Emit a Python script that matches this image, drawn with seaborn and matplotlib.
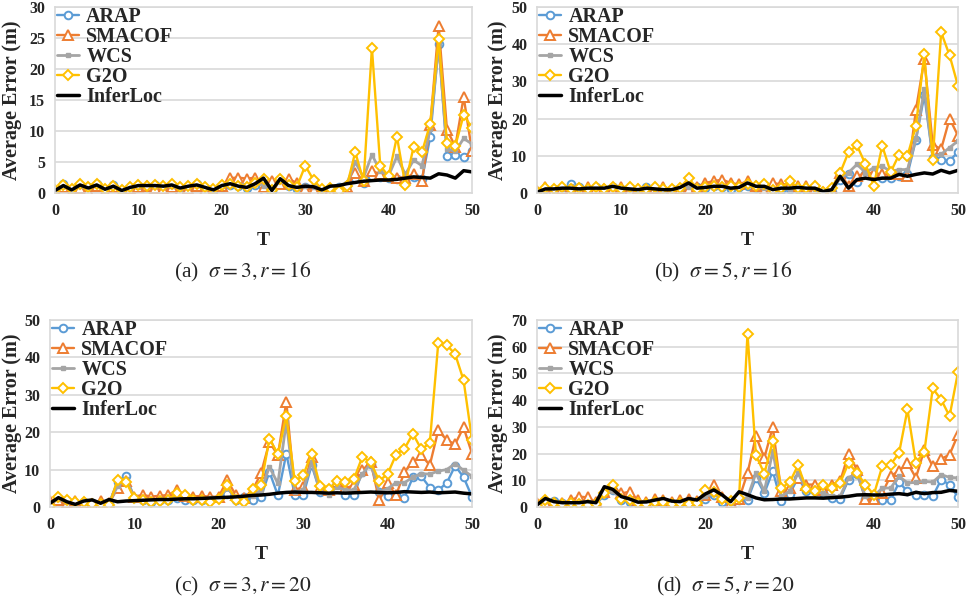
import matplotlib
matplotlib.use("Agg")
import matplotlib.pyplot as plt
import seaborn as sns
import pandas as pd

T = list(range(51))
methods = ["ARAP", "SMACOF", "WCS", "G2O", "InferLoc"]

# (a) sigma=3, r=16
a_arap = [0.2, 1.4, 0.6, 1.2, 0.9, 1.5, 0.7, 1.3, 0.5, 0.8, 1.1, 1.0, 1.3, 1.0, 1.2, 0.6, 1.0, 1.4, 0.7, 0.3,
          1.0, 1.3, 1.2, 0.8, 1.3, 0.4, 0.3, 1.8, 1.1, 0.6, 0.9, 0.8, 0.3, 0.7, 0.9, 1.3, 2.5, 1.6, 2.8, 2.6,
          2.4, 2.2, 2.0, 2.6, 2.2, 9.1, 24.0, 6.0, 6.2, 5.8, 6.8]
a_smacof = [0.3, 1.0, 0.2, 0.8, 0.3, 1.1, 0.2, 0.9, 0.1, 0.6, 0.9, 1.1, 0.8, 0.6, 1.0, 0.3, 0.7, 1.2, 0.5, 0.2,
            1.1, 2.4, 2.5, 2.3, 2.5, 1.0, 2.0, 1.5, 2.3, 1.6, 0.7, 0.5, 0.3, 0.4, 0.4, 1.0, 3.2, 2.0, 3.6, 3.0,
            2.8, 2.5, 2.5, 3.0, 1.9, 11.0, 27.0, 10.2, 7.5, 15.5, 6.7]
a_wcs = [0.3, 1.2, 0.5, 1.1, 0.8, 1.3, 0.6, 1.1, 0.4, 0.8, 1.0, 1.1, 1.1, 0.9, 1.2, 0.6, 1.0, 1.3, 0.8, 0.4,
         1.1, 1.6, 1.5, 1.3, 1.6, 1.2, 0.6, 1.9, 1.4, 0.8, 1.2, 1.0, 0.5, 0.9, 1.1, 1.5, 5.0, 2.5, 6.2, 3.5,
         2.8, 5.9, 3.0, 5.3, 4.4, 10.4, 24.0, 7.1, 6.7, 8.8, 7.9]
a_g2o = [0.5, 1.3, 0.6, 1.4, 0.9, 1.4, 0.7, 1.2, 0.5, 1.0, 1.3, 1.2, 1.3, 1.2, 1.4, 0.9, 1.2, 1.4, 0.9, 0.6,
         1.3, 1.5, 1.2, 1.0, 1.6, 2.2, 0.5, 2.2, 1.3, 1.0, 4.4, 2.1, 0.6, 0.8, 0.3, 1.1, 6.6, 1.9, 23.4, 4.4,
         2.7, 9.1, 1.3, 7.5, 6.6, 11.2, 24.9, 8.1, 7.6, 12.6, 10.5]
a_inferloc = [0.4, 1.2, 0.5, 1.3, 0.8, 1.3, 0.6, 1.1, 0.4, 0.9, 1.2, 1.2, 1.2, 1.1, 1.3, 0.8, 1.1, 1.3, 0.9, 0.5,
              1.2, 1.5, 1.1, 0.9, 1.5, 2.4, 0.4, 2.3, 1.2, 0.9, 1.1, 1.0, 0.5, 1.1, 1.2, 1.5, 1.7, 1.9, 2.0, 2.1,
              2.1, 2.2, 2.4, 2.6, 2.5, 2.4, 3.1, 2.9, 2.4, 3.6, 3.4]

# (b) sigma=5, r=16
b_arap = [0.3, 1.0, 1.2, 0.8, 2.3, 1.5, 0.8, 1.6, 1.2, 1.5, 1.0, 1.3, 0.7, 1.5, 1.0, 0.5, 1.2, 1.0, 1.0, 1.6,
          1.3, 2.0, 1.5, 1.2, 1.6, 1.8, 1.3, 1.5, 0.8, 0.7, 1.0, 1.1, 0.8, 1.2, 0.2, 0.4, 3.6, 5.0, 2.9, 5.0,
          4.5, 4.0, 4.0, 4.5, 5.0, 14.3, 26.3, 9.4, 8.9, 8.7, 11.0]
b_smacof = [0.5, 1.5, 0.8, 1.2, 0.9, 1.0, 1.6, 1.0, 1.2, 1.0, 1.5, 0.8, 1.2, 1.0, 1.3, 1.6, 0.6, 1.2, 1.0, 1.5,
            2.7, 3.2, 3.6, 2.7, 2.3, 3.2, 1.8, 0.5, 2.7, 2.3, 2.4, 1.8, 1.8, 1.1, 0.4, 0.9, 5.4, 1.8, 4.5, 5.4,
            5.4, 5.0, 5.0, 5.0, 4.5, 22.3, 35.9, 13.0, 11.8, 20.0, 15.4]
b_wcs = [0.3, 1.2, 1.1, 1.1, 1.8, 1.3, 1.0, 1.5, 1.3, 1.6, 1.2, 1.2, 0.8, 1.4, 1.1, 0.8, 1.0, 1.2, 1.5, 1.4,
         1.5, 2.2, 1.8, 1.6, 1.7, 2.2, 1.5, 1.4, 1.0, 1.0, 1.2, 1.3, 1.1, 1.2, 0.3, 0.7, 4.0, 5.5, 7.7, 5.5,
         6.8, 7.2, 5.8, 6.3, 6.3, 14.4, 27.9, 9.9, 10.4, 12.2, 14.0]
b_g2o = [0.4, 1.3, 1.0, 1.5, 1.2, 1.3, 1.0, 1.5, 1.2, 1.5, 1.2, 1.5, 1.0, 1.2, 1.5, 1.2, 1.0, 1.4, 4.0, 1.2,
         1.5, 1.8, 1.5, 1.8, 1.6, 2.3, 1.8, 2.3, 0.9, 1.3, 3.2, 1.4, 1.3, 1.8, 0.2, 1.4, 5.4, 11.0, 12.8, 7.8,
         2.0, 12.7, 5.6, 10.3, 10.0, 18.0, 37.3, 8.9, 43.2, 37.0, 28.8]
b_inferloc = [0.2, 1.1, 1.1, 1.3, 1.3, 1.1, 1.3, 1.3, 1.3, 1.8, 1.3, 1.1, 0.9, 1.3, 1.1, 0.9, 0.9, 1.5, 2.7, 1.3,
              1.5, 1.8, 1.8, 1.3, 1.5, 2.7, 1.8, 1.8, 0.9, 1.3, 1.3, 1.5, 1.3, 1.3, 0.4, 0.9, 4.5, 1.3, 3.6, 4.0,
              3.6, 4.0, 4.0, 5.0, 4.5, 5.0, 5.4, 5.1, 6.1, 5.4, 6.1]

# (c) sigma=3, r=20
c_arap = [0.5, 2.0, 1.5, 1.0, 1.3, 1.0, 1.2, 1.0, 6.8, 8.3, 2.5, 2.0, 1.4, 2.0, 1.8, 2.5, 2.0, 1.8, 2.0, 2.2,
          2.3, 3.5, 2.0, 2.6, 2.0, 2.7, 9.4, 3.1, 14.3, 3.1, 3.1, 11.2, 4.0, 4.9, 6.7, 3.3, 3.1, 9.4, 11.6, 4.0,
          2.9, 3.1, 2.5, 8.0, 8.2, 5.2, 4.5, 6.4, 11.0, 8.0, 2.7]
c_smacof = [1.5, 2.0, 1.0, 1.5, 1.2, 0.8, 1.5, 1.0, 5.0, 7.0, 2.8, 3.2, 2.8, 3.0, 3.2, 4.5, 3.0, 2.8, 3.0, 2.7,
            2.8, 7.2, 3.2, 2.5, 4.5, 9.0, 17.4, 13.8, 28.1, 4.5, 5.4, 13.4, 5.0, 4.5, 6.7, 5.0, 5.8, 9.8, 12.0, 1.8,
            6.4, 3.1, 9.4, 12.0, 13.8, 11.2, 20.5, 17.9, 16.8, 21.3, 14.3]
c_wcs = [0.8, 2.2, 1.3, 1.0, 1.4, 1.2, 1.2, 1.2, 5.5, 7.5, 2.4, 2.2, 1.8, 2.2, 2.0, 3.0, 2.4, 2.0, 2.2, 2.3,
         2.5, 5.0, 2.5, 2.5, 3.0, 4.5, 10.7, 6.3, 22.8, 4.0, 4.5, 12.0, 4.2, 3.3, 5.4, 4.5, 4.6, 8.8, 11.6, 4.0,
         4.9, 6.5, 6.5, 8.0, 8.9, 8.8, 9.6, 10.0, 11.6, 9.8, 8.2]
c_g2o = [0.4, 2.8, 1.8, 1.4, 1.4, 0.9, 0.9, 0.5, 7.2, 6.8, 2.3, 1.8, 1.4, 1.6, 1.8, 3.7, 3.2, 1.8, 1.8, 1.4,
         2.1, 5.9, 2.0, 1.4, 4.9, 5.8, 18.3, 14.1, 24.4, 6.9, 8.5, 14.3, 5.6, 4.7, 6.9, 6.7, 7.4, 13.4, 12.0, 7.0,
         8.8, 14.0, 15.6, 19.6, 15.4, 17.1, 43.8, 43.3, 40.9, 33.9, 18.0]
c_inferloc = [1.0, 2.5, 1.4, 0.7, 1.6, 1.9, 1.0, 2.0, 1.4, 1.6, 1.7, 1.8, 1.9, 2.0, 2.0, 2.1, 2.2, 2.2, 2.3, 2.4,
              2.5, 2.6, 2.7, 2.9, 3.1, 3.2, 3.4, 3.7, 3.9, 4.0, 3.9, 3.9, 3.8, 3.7, 3.8, 3.7, 3.8, 3.9, 4.0, 3.9,
              3.8, 3.9, 4.1, 4.0, 3.9, 4.0, 3.8, 3.9, 4.0, 3.7, 3.5]

# (d) sigma=5, r=20
d_arap = [0.5, 2.0, 2.2, 1.5, 1.8, 1.2, 1.5, 1.0, 4.5, 6.5, 2.5, 1.8, 1.2, 1.5, 2.0, 1.5, 1.0, 1.5, 2.0, 1.2,
          3.0, 4.5, 2.0, 0.7, 2.5, 2.7, 10.9, 5.2, 13.4, 2.1, 4.9, 10.9, 5.9, 5.9, 5.2, 3.4, 3.1, 10.2, 12.5, 3.1,
          4.0, 2.7, 2.7, 9.2, 5.9, 4.6, 4.6, 4.0, 10.2, 8.4, 3.7]
d_smacof = [1.5, 2.0, 1.5, 1.5, 2.5, 3.9, 3.6, 1.8, 5.5, 7.6, 5.1, 5.7, 2.5, 1.8, 3.0, 2.5, 1.8, 2.5, 3.0, 2.2,
            4.5, 8.2, 3.8, 1.5, 3.0, 12.7, 26.5, 18.4, 29.9, 5.9, 7.1, 10.9, 8.4, 8.4, 6.5, 8.4, 9.6, 19.9, 14.0, 3.1,
            3.0, 5.2, 11.7, 13.4, 16.5, 10.9, 21.5, 15.2, 18.0, 19.6, 27.1]
d_wcs = [0.8, 2.2, 2.0, 1.6, 1.8, 1.8, 1.8, 1.4, 5.0, 6.0, 3.0, 2.5, 1.5, 1.6, 2.3, 2.5, 1.5, 1.8, 2.5, 2.0,
         4.0, 5.0, 3.0, 1.5, 3.0, 3.5, 12.7, 5.9, 20.9, 4.0, 5.9, 12.7, 6.5, 5.9, 5.2, 4.0, 4.0, 10.9, 12.7, 4.0,
         4.0, 7.1, 7.1, 11.5, 9.0, 9.2, 9.6, 9.3, 12.1, 11.1, 10.9]
d_g2o = [0.4, 2.5, 1.5, 1.2, 1.5, 1.0, 0.8, 1.2, 5.1, 8.2, 3.0, 2.5, 1.5, 1.2, 1.8, 2.0, 1.2, 1.5, 1.0, 1.5,
         6.4, 5.8, 3.0, 2.1, 3.5, 64.9, 19.4, 12.5, 24.6, 7.1, 9.2, 15.6, 6.7, 5.9, 8.4, 7.1, 9.0, 16.5, 12.7, 8.4,
         4.6, 15.2, 15.9, 20.2, 36.5, 16.5, 20.6, 44.4, 40.2, 34.0, 50.5]
d_inferloc = [0.8, 3.2, 2.0, 1.6, 1.6, 1.6, 2.0, 1.6, 7.6, 6.6, 3.9, 3.0, 1.8, 1.9, 2.6, 3.2, 2.2, 2.0, 3.2, 2.6,
              4.9, 6.4, 4.5, 2.0, 5.7, 4.6, 3.4, 2.7, 2.8, 3.0, 3.0, 3.2, 3.4, 3.4, 3.3, 3.5, 3.7, 4.0, 4.5, 4.6,
              4.5, 4.5, 4.8, 5.0, 4.6, 5.5, 5.0, 5.4, 5.5, 6.2, 5.9]

captions = [r"(a)  $\sigma = 3, r = 16$", r"(b)  $\sigma = 5, r = 16$",
            r"(c)  $\sigma = 3, r = 20$", r"(d)  $\sigma = 5, r = 20$"]
y_max = [30, 50, 50, 70]
y_step = [5, 10, 10, 10]

panel_data = [
    [a_arap, a_smacof, a_wcs, a_g2o, a_inferloc],
    [b_arap, b_smacof, b_wcs, b_g2o, b_inferloc],
    [c_arap, c_smacof, c_wcs, c_g2o, c_inferloc],
    [d_arap, d_smacof, d_wcs, d_g2o, d_inferloc],
]

sns.set_style("white")
plt.rcParams["font.family"] = ["Liberation Serif", "DejaVu Serif"]
plt.rcParams["mathtext.fontset"] = "stix"

W, H = 970, 604
fig = plt.figure(figsize=(W / 100, H / 100), dpi=100)

# pixel boxes: left, top, right, bottom
boxes = [(55, 7, 472, 193), (537, 7, 958, 193), (50, 320, 472, 507), (537, 320, 958, 507)]
ylabel_right = [22, 508, 22, 508]
cap_pos = [(243, 272), (723, 272), (243, 586), (725, 586)]

colors = {"ARAP": "#5B9BD5", "SMACOF": "#ED7D31", "WCS": "#A5A5A5", "G2O": "#FFC000", "InferLoc": "black"}
styles = {
    "ARAP": dict(marker="o", markersize=5.5, markerfacecolor="white", markeredgewidth=1.4, lw=1.7),
    "SMACOF": dict(marker="^", markersize=6.5, markerfacecolor="white", markeredgewidth=1.4, lw=1.7),
    "WCS": dict(marker="s", markersize=2.5, markerfacecolor=colors["WCS"], markeredgewidth=1, lw=2.0),
    "G2O": dict(marker="D", markersize=5, markerfacecolor="white", markeredgewidth=1.4, lw=1.7),
    "InferLoc": dict(lw=2.5),
}

for i, (l, t, r, b) in enumerate(boxes):
    ax = fig.add_axes([l / W, 1 - b / H, (r - l) / W, (b - t) / H])
    for name, vals in zip(methods, panel_data[i]):
        df = pd.DataFrame({"T": T, "err": vals})
        kw = dict(styles[name])
        if "marker" in kw:
            kw["markeredgecolor"] = colors[name]
        sns.lineplot(data=df, x="T", y="err", ax=ax, label=name, color=colors[name], **kw)
    ax.set_xlim(0, 50)
    ax.set_ylim(0, y_max[i])
    ax.set_xticks(range(0, 51, 10))
    ax.set_yticks(range(0, y_max[i] + 1, y_step[i]))
    ax.yaxis.grid(True, color="#D9D9D9", lw=1.2)
    ax.xaxis.grid(False)
    ax.set_axisbelow(True)
    for sp in ax.spines.values():
        sp.set_color("#D9D9D9")
        sp.set_linewidth(1.2)
    ax.tick_params(length=0, labelsize=11.5, pad=7)
    for lab in ax.get_xticklabels() + ax.get_yticklabels():
        lab.set_fontweight("bold")
    ax.set_xlabel("T", fontsize=14, fontweight="bold")
    ax.set_ylabel("Average Error (m)", fontsize=14.5, fontweight="bold")
    ax.xaxis.set_label_coords(0.5, -0.21)
    ax.yaxis.set_label_coords((ylabel_right[i] - l) / (r - l), 0.5)
    ax.legend(loc="upper left", bbox_to_anchor=(0.005, 1.0), frameon=False,
              prop=dict(family="Liberation Serif", weight="bold", size=14.5),
              handlelength=1.1, handletextpad=0.35, labelspacing=0.0,
              borderpad=0, borderaxespad=0)
    cx, cy = cap_pos[i]
    fig.text(cx / W, 1 - cy / H, captions[i], ha="center", va="center", fontsize=15.5)

fig.savefig("out.png", dpi=100, facecolor="white")
